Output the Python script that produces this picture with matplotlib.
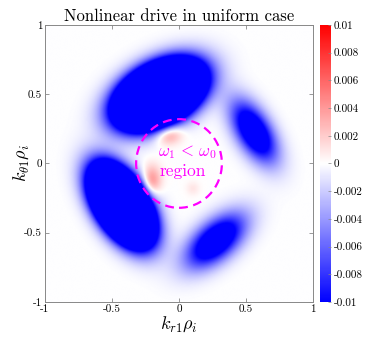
import numpy as np
import matplotlib
matplotlib.use("Agg")
from matplotlib import pyplot as plt
from matplotlib.patches import Circle

plt.rcParams["font.family"] = "serif"
plt.rcParams["font.serif"] = ["cmr10", "DejaVu Serif"]
plt.rcParams["mathtext.fontset"] = "cm"
plt.rcParams["axes.unicode_minus"] = False

# Blob parameters: centre, amplitude, half-axes, tilt (deg)
blob_x = [-0.15, 0.555, -0.43, 0.27, -0.08, -0.21, 0.10]
blob_y = [0.50, 0.23, -0.30, -0.56, 0.21, -0.13, -0.18]
blob_amp = [-0.10, -0.016, -0.10, -0.016, 0.005, 0.005, 0.001]
blob_a = [0.27, 0.24, 0.25, 0.25, 0.10, 0.07, 0.05]
blob_b = [0.16, 0.12, 0.14, 0.13, 0.07, 0.11, 0.05]
blob_tilt = [27, -58, -56, 39, 10, 0, 0]

cbar_ticks = [-0.01, -0.008, -0.006, -0.004, -0.002, 0, 0.002, 0.004, 0.006, 0.008, 0.01]
cbar_labels = ["-0.01", "-0.008", "-0.006", "-0.004", "-0.002", "0",
               "0.002", "0.004", "0.006", "0.008", "0.01"]
axis_ticks = [-1, -0.5, 0, 0.5, 1]
axis_labels = ["-1", "-0.5", "0", "0.5", "1"]


def lag_felt():
    k = np.linspace(-1, 1, 401)
    kx, ky = np.meshgrid(k, k)
    felt = np.zeros_like(kx)
    for x0, y0, amp, a, b, t in zip(blob_x, blob_y, blob_amp, blob_a, blob_b, blob_tilt):
        th = np.deg2rad(t)
        u = (kx - x0) * np.cos(th) + (ky - y0) * np.sin(th)
        v = -(kx - x0) * np.sin(th) + (ky - y0) * np.cos(th)
        felt += amp * np.exp(-(u / a) ** 2 - (v / b) ** 2)
    return felt


def main() -> None:
    fig = plt.figure(figsize=(3.74, 3.40), dpi=100)
    ax = fig.add_axes([0.1203, 0.1118, 0.7166, 0.8147])
    cax = fig.add_axes([0.8556, 0.1118, 0.0294, 0.8147])

    im = ax.imshow(lag_felt(), extent=[-1, 1, -1, 1], origin="lower",
                   cmap="bwr", vmin=-0.01, vmax=0.01, aspect="auto",
                   interpolation="bilinear")

    # Omraadet der omega_1 < omega_0
    ax.add_patch(Circle((0.0, 0.0), 0.32, fill=False, ec="#ff00ff", lw=1.6, ls=(0, (4, 2.5))))
    ax.text(0.065, 0.08, r"$\omega_1 \,<\, \omega_0$", color="#ff00ff", fontsize=12,
            ha="center", va="center")
    ax.text(0.025, -0.06, "region", color="#ff00ff", fontsize=12.5, ha="center", va="center")

    ax.set_xlim(-1, 1)
    ax.set_ylim(-1, 1)
    ax.set_xticks(axis_ticks, axis_labels)
    ax.set_yticks(axis_ticks, axis_labels)
    ax.tick_params(direction="in", length=3, width=0.6, color="#888888", labelsize=8,
                   top=True, right=True, pad=2)
    for s in ax.spines.values():
        s.set_color("#888888")
        s.set_linewidth(0.7)

    ax.set_title("Nonlinear drive in uniform case", fontsize=12, pad=3)
    ax.set_xlabel(r"$k_{r1}\rho_i$", fontsize=13, labelpad=0)
    ax.set_ylabel(r"$k_{\theta 1}\rho_i$", fontsize=13, labelpad=-5)

    cb = fig.colorbar(im, cax=cax, ticks=cbar_ticks)
    cb.ax.set_yticklabels(cbar_labels)
    cb.ax.tick_params(direction="in", length=2, width=0.5, labelsize=8, pad=2, color="#888888")
    cb.outline.set_visible(False)

    fig.savefig("out.png", dpi=100)


if __name__ == "__main__":
    main()
